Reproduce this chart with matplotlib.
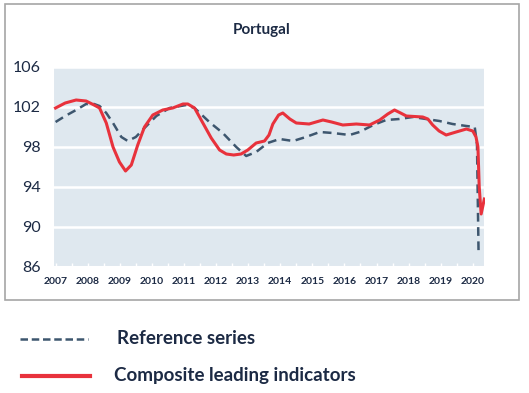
"""Portugal: composite leading indicators vs reference series."""

import matplotlib
matplotlib.use("Agg")
import matplotlib.pyplot as plt
from matplotlib.lines import Line2D
from matplotlib.patches import Rectangle

plt.rcParams["font.family"] = ["Lato", "DejaVu Sans"]

# ------------------------------------------------------------------
# Data
# ------------------------------------------------------------------
cli_x = [2007.0, 2007.3, 2007.64, 2007.95, 2008.2, 2008.37, 2008.58, 2008.79,
         2008.99, 2009.18, 2009.36, 2009.56, 2009.77, 2010.03, 2010.34,
         2010.65, 2010.97, 2011.12, 2011.33, 2011.59, 2011.85, 2012.11,
         2012.32, 2012.55, 2012.78, 2012.99, 2013.25, 2013.51, 2013.65,
         2013.77, 2013.95, 2014.08, 2014.3, 2014.5, 2014.9, 2015.33, 2015.6,
         2015.95, 2016.37, 2016.78, 2017.1, 2017.35, 2017.56, 2017.75,
         2017.93, 2018.44, 2018.6, 2018.75, 2018.95, 2019.17, 2019.48,
         2019.8, 2020.0, 2020.1, 2020.16, 2020.2, 2020.26, 2020.36]
cli_y = [101.9, 102.4, 102.7, 102.6, 102.2, 101.9, 100.4, 98.0,
         96.5, 95.6, 96.2, 98.2, 100.0, 101.2, 101.7,
         101.9, 102.3, 102.3, 101.9, 100.4, 98.9, 97.7,
         97.3, 97.2, 97.3, 97.7, 98.4, 98.6, 99.2,
         100.3, 101.2, 101.4, 100.8, 100.4, 100.3, 100.7, 100.5,
         100.2, 100.3, 100.2, 100.7, 101.3, 101.7, 101.4,
         101.1, 101.0, 100.8, 100.2, 99.6, 99.2, 99.5,
         99.8, 99.6, 99.0, 98.0, 94.0, 91.3, 92.8]

ref_x = [2007.0, 2007.3, 2007.64, 2007.95, 2008.2, 2008.37, 2008.58, 2008.79,
         2009.05, 2009.25, 2009.5, 2009.77, 2010.14, 2010.55, 2011.07,
         2011.33, 2011.79, 2012.21, 2012.63, 2012.94, 2013.25, 2013.61,
         2013.98, 2014.4, 2014.8, 2015.23, 2015.64, 2016.16, 2016.47,
         2016.9, 2017.3, 2017.71, 2018.13, 2018.54, 2018.96, 2019.37,
         2019.8, 2020.06, 2020.13, 2020.18]
ref_y = [100.5, 101.1, 101.7, 102.3, 102.3, 102.1, 101.4, 100.4,
         99.0, 98.6, 99.0, 99.9, 101.1, 101.9, 102.2,
         101.9, 100.5, 99.4, 98.0, 97.1, 97.5, 98.4,
         98.8, 98.6, 99.0, 99.5, 99.4, 99.2, 99.5,
         100.2, 100.7, 100.8, 101.0, 100.8, 100.6, 100.3,
         100.1, 100.0, 98.3, 87.3]

years = list(range(2007, 2021))
y_ticks = [86, 90, 94, 98, 102, 106]

text_col = "#1c2a44"
bg_col = "#dfe8ef"
red = "#e8323c"
navy = "#3d566e"

fig = plt.figure(figsize=(5.29, 3.93), dpi=100)

# outer chart frame
fig.patches.append(Rectangle((5 / 529, 1 - 300 / 393), 514 / 529, 296 / 393,
                             transform=fig.transFigure, fill=False,
                             edgecolor="#a6a6a6", linewidth=1.2))

ax = fig.add_axes([53 / 529, 1 - 267 / 393, 432 / 529, 200 / 393])
ax.set_facecolor(bg_col)
for s in ax.spines.values():
    s.set_color("white")
    s.set_linewidth(1.5)

ax.plot(ref_x, ref_y, color=navy, linestyle=(0, (3.5, 2.2)), linewidth=1.8,
        zorder=3)
ax.plot(cli_x, cli_y, color=red, linewidth=2.2, zorder=4)

ax.set_xlim(2006.92, 2020.38)
ax.set_ylim(86, 106)
ax.set_yticks(y_ticks)
ax.set_yticklabels([str(v) for v in y_ticks], fontsize=11.5, color=text_col)
ax.set_xticks(years)
ax.set_xticklabels([str(v) for v in years], fontsize=7.5, fontweight="bold",
                   color=text_col)
ax.set_xticks([y + 0.5 for y in years[:-1]], minor=True)
ax.tick_params(axis="y", length=0, pad=9)
ax.tick_params(axis="x", which="both", direction="in", length=3,
               color="white", width=1, pad=7)
ax.grid(axis="y", color="white", linewidth=1.8)
ax.set_axisbelow(True)

fig.text(262 / 529, 1 - 30 / 393, "Portugal", ha="center", va="center",
         fontsize=11, fontweight="bold", color=text_col)

# legend below the frame
fig.add_artist(Line2D([20 / 529, 88 / 529], [1 - 339 / 393] * 2,
                      transform=fig.transFigure, color=navy,
                      linestyle=(0, (3, 1.5)), linewidth=1.8))
fig.text(117 / 529, 1 - 339 / 393, "Reference series", ha="left",
         va="center", fontsize=13.5, fontweight="bold", color=text_col)
fig.add_artist(Line2D([22 / 529, 90 / 529], [1 - 376 / 393] * 2,
                      transform=fig.transFigure, color=red, linewidth=3))
fig.text(114 / 529, 1 - 376 / 393, "Composite leading indicators", ha="left",
         va="center", fontsize=13.5, fontweight="bold", color=text_col)

fig.savefig("out.png", dpi=100)
